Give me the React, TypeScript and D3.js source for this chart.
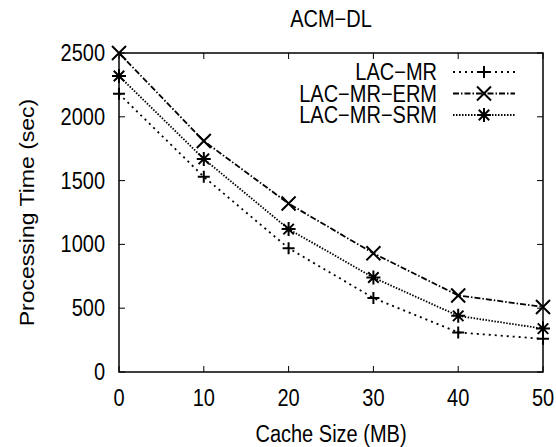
import React, {useEffect, useRef} from 'react';
import * as d3 from 'd3';

const cacheSizes = [0, 10, 20, 30, 40, 50];
const lacMr = [2180, 1530, 970, 580, 310, 260];
const lacMrErm = [2500, 1810, 1320, 930, 600, 510];
const lacMrSrm = [2320, 1670, 1120, 740, 440, 340];
const yTicks = [0, 500, 1000, 1500, 2000, 2500];

const seriesList = [
    {name: 'LAC\u2212MR', values: lacMr, dash: '2,4', marker: 'plus'},
    {name: 'LAC\u2212MR\u2212ERM', values: lacMrErm, dash: '6,2,1.5,2', marker: 'cross'},
    {name: 'LAC\u2212MR\u2212SRM', values: lacMrSrm, dash: '1.5,1.5', marker: 'star'},
];

const W = 556, H = 447;
const margin = {top: 53, right: 13, bottom: 75, left: 119};
const font = 'Liberation Sans, Arial, sans-serif';
const stretch = 1.15; // the original text is a bit taller than it is wide

// marker path centred at 0,0
const markerPath = (type: string, s: number) => {
    const p = `M${-s},0L${s},0M0,${-s}L0,${s}`;
    const x = `M${-s},${-s}L${s},${s}M${-s},${s}L${s},${-s}`;
    if (type === 'plus') return p;
    if (type === 'cross') return x;
    const k = s * 0.75;
    return `M0,${-s}L0,${s}M${-k},${-k}L${k},${k}M${-k},${k}L${k},${-k}M${-s},0L${s},0`;
};

export default function App() {
    const svgRef = useRef<SVGSVGElement>(null);

    useEffect(() => {
        const svg = d3.select(svgRef.current);
        svg.selectAll('*').remove();

        const label = (parent: any, tx: number, ty: number, txt: string, anchor: string, rot = 0) =>
            parent.append('text')
                .attr('transform', `translate(${tx},${ty}) rotate(${rot}) scale(1,${stretch})`)
                .attr('text-anchor', anchor).attr('font-family', font).attr('font-size', 20)
                .text(txt);

        const iw = W - margin.left - margin.right;
        const ih = H - margin.top - margin.bottom;
        const x = d3.scaleLinear().domain([0, 50]).range([0, iw]);
        const y = d3.scaleLinear().domain([0, 2500]).range([ih, 0]);

        const g = svg.append('g').attr('transform', `translate(${margin.left},${margin.top})`);

        // ticks on all four sides, pointing in
        const tl = 6;
        cacheSizes.forEach(v => {
            g.append('line').attr('x1', x(v)).attr('x2', x(v)).attr('y1', ih).attr('y2', ih - tl)
                .attr('stroke', '#000').attr('stroke-width', 1);
            g.append('line').attr('x1', x(v)).attr('x2', x(v)).attr('y1', 0).attr('y2', tl)
                .attr('stroke', '#000').attr('stroke-width', 1);
            label(g, x(v), ih + 34, String(v), 'middle');
        });
        yTicks.forEach(v => {
            g.append('line').attr('x1', 0).attr('x2', tl).attr('y1', y(v)).attr('y2', y(v))
                .attr('stroke', '#000').attr('stroke-width', 1);
            g.append('line').attr('x1', iw).attr('x2', iw - tl).attr('y1', y(v)).attr('y2', y(v))
                .attr('stroke', '#000').attr('stroke-width', 1);
            label(g, -14, y(v) + 8, String(v), 'end');
        });

        g.append('rect').attr('width', iw).attr('height', ih)
            .attr('fill', 'none').attr('stroke', '#000').attr('stroke-width', 1.5);

        const line = d3.line<number>().x((d, i) => x(cacheSizes[i])).y(d => y(d));

        seriesList.forEach(s => {
            g.append('path').attr('d', line(s.values)).attr('fill', 'none')
                .attr('stroke', '#000').attr('stroke-width', 1.8).attr('stroke-dasharray', s.dash);
            s.values.forEach((v, i) => {
                g.append('path').attr('d', markerPath(s.marker, s.marker === 'plus' ? 6 : 7))
                    .attr('transform', `translate(${x(cacheSizes[i])},${y(v)})`)
                    .attr('fill', 'none').attr('stroke', '#000').attr('stroke-width', 2);
            });
        });

        // legend
        const legend = svg.append('g');
        seriesList.forEach((s, i) => {
            const ly = 72 + i * 21.5;
            label(legend, 437, ly + 8, s.name, 'end');
            legend.append('line').attr('x1', 453).attr('x2', 515).attr('y1', ly).attr('y2', ly)
                .attr('stroke', '#000').attr('stroke-width', 1.8).attr('stroke-dasharray', s.dash);
            legend.append('path').attr('d', markerPath(s.marker, s.marker === 'plus' ? 6 : 7))
                .attr('transform', `translate(484,${ly})`)
                .attr('fill', 'none').attr('stroke', '#000').attr('stroke-width', 2);
        });

        // title and axis labels
        label(svg, margin.left + iw / 2, 27, 'ACM\u2212DL', 'middle');
        label(svg, margin.left + iw / 2, 442, 'Cache Size (MB)', 'middle');
        svg.append('text')
            .attr('transform', `translate(34,${margin.top + ih / 2}) rotate(-90) scale(${stretch},1)`)
            .attr('text-anchor', 'middle').attr('font-family', font).attr('font-size', 20)
            .text('Processing Time (sec)');
    }, []);

    return (
        <svg ref={svgRef} width={W} height={H}
             style={{position: 'absolute', left: 0, top: 0, background: '#fff'}}></svg>
    );
}
